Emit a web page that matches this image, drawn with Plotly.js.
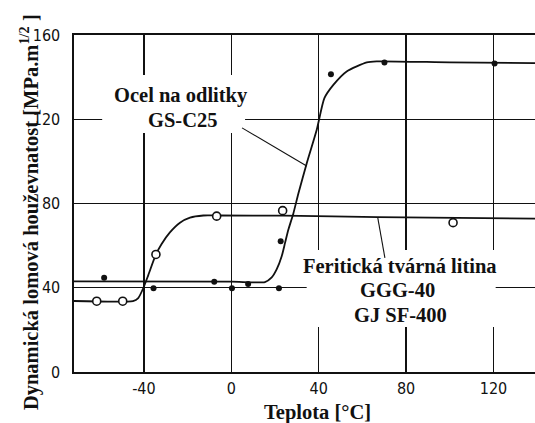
<!DOCTYPE html>
<html>
<head>
<meta charset="utf-8">
<script src="https://cdn.plot.ly/plotly-3.0.1.min.js"></script>
<style>
  html, body { margin: 0; padding: 0; background: #ffffff; }
  #chart { width: 535px; height: 423px; }
</style>
</head>
<body>
<div id="chart"></div>
<script>
// ---- Data ----
// Temperature [°C] and dynamic fracture toughness [MPa.m^1/2]

// Cast steel GS-C25: drawn transition curve
const steelCurveT = [-72, 0, 15.4, 18.5, 20.8, 23.1, 24.6, 26.1, 28.4, 30.7, 34.5, 39.1, 42.6, 46.7, 52.8, 62, 66.5, 100, 139];
const steelCurveK = [43.0, 42.9, 42.7, 44.9, 48.8, 55.1, 61.3, 67.5, 75.3, 84.7, 99, 115, 130, 136.3, 142.7, 147, 147.5, 147, 146.6];
// Cast steel GS-C25: measured points (filled dots)
const steelPointsT = [-58.2, -7.8, 7.7, 22.6, 45.6, 70.1, 120.5];
const steelPointsK = [44.7, 42.9, 41.8, 62.1, 141.4, 147, 146.5];
// Additional filled dots lying on the 40 level
const lowerPointsT = [-35.6, 0.3, 21.8];
const lowerPointsK = [39.8, 39.8, 39.8];

// Ferritic ductile iron GGG-40 / GJ SF-400: drawn transition curve
const ironCurveT = [-72, -45, -42.6, -40.3, -38, -34.5, -31.9, -28.1, -23.5, -18.9, -12.8, -6, 24, 67, 139];
const ironCurveK = [33.7, 33.7, 35.1, 39.8, 46, 55.8, 60.8, 66.3, 70.9, 73.3, 74.3, 74.3, 74.2, 73.5, 72.8];
// Ferritic ductile iron: measured points (open circles)
const ironPointsT = [-61.6, -49.7, -34.5, -6.7, 23.5, 101.5];
const ironPointsK = [33.6, 33.6, 55.8, 74, 76.6, 70.9];

// Axis ticks
const tempTickVals = [-40, 0, 40, 80, 120];
const tempTickText = ['-40', '0', '40', '80', '120'];
const kTickVals = [0, 40, 80, 120, 160];
const kTickText = ['0', '40', '80', '120', '160'];

// Texts
const steelLabel = ['Ocel na odlitky', 'GS-C25'];
const ironLabel = ['Feritická tvárná litina', 'GGG-40', 'GJ SF-400'];
const xTitle = 'Teplota [°C]';
const yTitle = 'Dynamická lomová houževnatost [MPa.m<sup>1/2</sup> ]';

// ---- Styles ----
const serif = 'Liberation Serif, Times New Roman, serif';
const narrow = 'Liberation Sans Narrow, DejaVu Sans Condensed, Arial Narrow, sans-serif';
const ink = '#111111';

const traces = [
  { x: steelCurveT, y: steelCurveK, mode: 'lines', name: 'GS-C25',
    line: { color: ink, width: 1.8, shape: 'spline', smoothing: 0.6 }, hoverinfo: 'x+y' },
  { x: ironCurveT, y: ironCurveK, mode: 'lines', name: 'GGG-40',
    line: { color: ink, width: 1.8, shape: 'spline', smoothing: 0.6 }, hoverinfo: 'x+y' },
  { x: steelPointsT, y: steelPointsK, mode: 'markers', name: 'GS-C25 body',
    marker: { color: ink, size: 6, line: { width: 0 } } },
  { x: lowerPointsT, y: lowerPointsK, mode: 'markers', name: 'body 40',
    marker: { color: ink, size: 6, line: { width: 0 } } },
  { x: ironPointsT, y: ironPointsK, mode: 'markers', name: 'GGG-40 body',
    marker: { color: '#ffffff', size: 8, symbol: 'circle', line: { color: ink, width: 1.6 } } }
];

const annotations = [
  { x: -23.2, y: 131.1, text: steelLabel[0] },
  { x: -22.5, y: 119.7, text: steelLabel[1] },
  { x: 77.2, y: 50.3, text: ironLabel[0] },
  { x: 76.1, y: 38.9, text: ironLabel[1] },
  { x: 77.4, y: 27.1, text: ironLabel[2] }
].map(a => Object.assign({
  xref: 'x', yref: 'y', showarrow: false, xanchor: 'center', yanchor: 'middle',
  font: { family: serif, size: 20.5, color: ink, weight: 'bold' }
}, a));

annotations.push({
  xref: 'paper', yref: 'paper', x: 0.528, y: -0.12, showarrow: false,
  xanchor: 'center', yanchor: 'middle', text: xTitle,
  font: { family: serif, size: 20.5, color: ink, weight: 'bold' }
});
annotations.push({
  xref: 'paper', yref: 'paper', x: -0.0965, y: 0.473, showarrow: false,
  xanchor: 'center', yanchor: 'middle', textangle: -90, text: yTitle,
  font: { family: serif, size: 20.5, color: ink, weight: 'bold' }
});

const shapes = [
  // white areas where the grid is interrupted behind the labels
  { type: 'rect', xref: 'x', yref: 'y', x0: -59.1, x1: 6.3, y0: 113.5, y1: 141,
    fillcolor: '#ffffff', line: { width: 0 }, layer: 'between' },
  { type: 'rect', xref: 'x', yref: 'y', x0: 34.5, x1: 121, y0: 21.4, y1: 57.9,
    fillcolor: '#ffffff', line: { width: 0 }, layer: 'between' },
  // leader lines
  { type: 'line', xref: 'x', yref: 'y', x0: 4.9, y0: 115.9, x1: 34.5, y1: 97.8,
    line: { color: ink, width: 1.1 } },
  { type: 'line', xref: 'x', yref: 'y', x0: 67, y0: 73.4, x1: 70.3, y1: 54.2,
    line: { color: ink, width: 1.1 } }
];

const layout = {
  width: 535, height: 423,
  margin: { l: 74, r: 0, t: 35, b: 51 },
  paper_bgcolor: '#ffffff', plot_bgcolor: '#ffffff',
  showlegend: false,
  xaxis: {
    range: [-72, 139], tickvals: tempTickVals, ticktext: tempTickText,
    showgrid: true, gridcolor: ink, gridwidth: 1.2, zeroline: false,
    showline: true, linecolor: ink, linewidth: 1.6, mirror: true,
    ticks: '', ticklabelstandoff: 1,
    tickfont: { family: narrow, size: 16, color: ink }
  },
  yaxis: {
    range: [0, 160], tickvals: kTickVals, ticktext: kTickText,
    showgrid: true, gridcolor: ink, gridwidth: 1.2, zeroline: false,
    showline: true, linecolor: ink, linewidth: 1.6,
    ticks: '', ticklabelstandoff: 9,
    tickfont: { family: narrow, size: 16, color: ink }
  },
  annotations: annotations,
  shapes: shapes
};

Plotly.newPlot('chart', traces, layout, { displayModeBar: false, staticPlot: true });
</script>
</body>
</html>
